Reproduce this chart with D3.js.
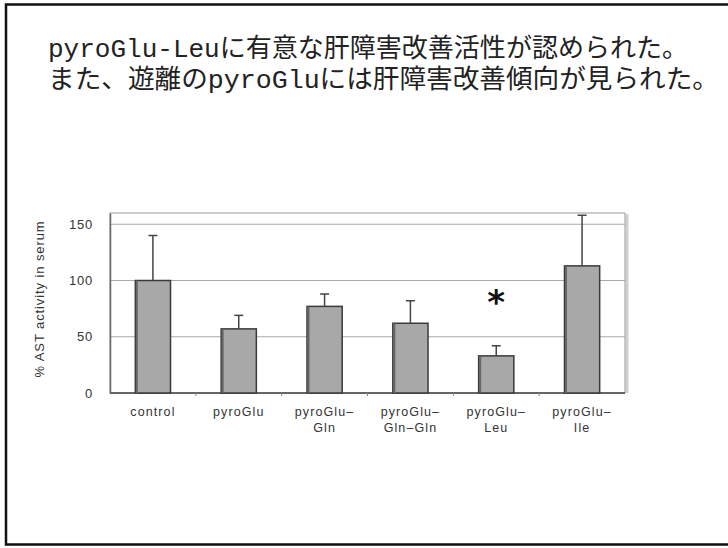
<!DOCTYPE html>
<html>
<head>
<meta charset="utf-8">
<script src="https://cdn.jsdelivr.net/npm/d3@7"></script>
<style>
  body { margin: 0; background: #fff; }
  svg { display: block; }
</style>
</head>
<body>
<script>
// values
var groups = ["control", "pyroGlu", "pyroGlu-Gln", "pyroGlu-Gln-Gln", "pyroGlu-Leu", "pyroGlu-Ile"];
var labelLines = [["control"], ["pyroGlu"], ["pyroGlu\u2013", "Gln"], ["pyroGlu\u2013", "Gln\u2013Gln"], ["pyroGlu\u2013", "Leu"], ["pyroGlu\u2013", "Ile"]];
var means = [100, 57, 77, 62, 33, 113];
var errTops = [140, 69, 88, 82, 42, 158];
var yTicks = [0, 50, 100, 150];
var sigGroups = ["pyroGlu-Leu"];
var titleLines = ["pyroGlu-Leuに有意な肝障害改善活性が認められた。", "また、遊離のpyroGluには肝障害改善傾向が見られた。"];
var yLabel = "% AST activity in serum";

var svgWidth = 728, svgHeight = 548;
var margin = {top: 213, right: 103, bottom: 155, left: 110};
var innerWidth = svgWidth - margin.left - margin.right;
var innerHeight = svgHeight - margin.top - margin.bottom;

var svg = d3.select("body").append("svg")
    .attr("width", svgWidth)
    .attr("height", svgHeight);

// slide frame, open on the right (runs off the page)
svg.append("path")
    .attr("d", "M" + svgWidth + ",4.5H6V544.5H" + svgWidth)
    .attr("fill", "none")
    .attr("stroke", "#111")
    .attr("stroke-width", 2.5);

svg.selectAll(".title")
    .data(titleLines)
    .enter().append("text")
    .attr("class", "title")
    .attr("x", 48)
    .attr("y", function(d, i) { return 57 + i * 31; })
    .attr("textLength", function(d, i) { return i == 0 ? 640 : 671; })
    .attr("lengthAdjust", "spacingAndGlyphs")
    .style("font-family", "'Liberation Mono', 'Noto Sans CJK JP'")
    .style("font-size", "26px")
    .style("fill", "#222")
    .text(function(d) { return d; });

var xScale = d3.scaleBand()
    .domain(groups)
    .range([0, innerWidth]);

var yScale = d3.scaleLinear()
    .domain([0, 160])
    .range([innerHeight, 0]);

var g = svg.append("g")
    .attr("transform", "translate(" + margin.left + "," + margin.top + ")");

// plot box + shadow on the right
g.append("line")
    .attr("x1", innerWidth + 2).attr("x2", innerWidth + 2)
    .attr("y1", 1).attr("y2", innerHeight)
    .attr("stroke", "#d0d0d0").attr("stroke-width", 3);
g.append("rect")
    .attr("x", 0).attr("y", 0)
    .attr("width", innerWidth).attr("height", innerHeight)
    .attr("fill", "none")
    .attr("stroke", "#999")
    .attr("stroke-width", 1);

// gridlines
g.selectAll(".grid")
    .data(yTicks.filter(function(d) { return d > 0; }))
    .enter().append("line")
    .attr("class", "grid")
    .attr("x1", 0).attr("x2", innerWidth)
    .attr("y1", function(d) { return yScale(d); })
    .attr("y2", function(d) { return yScale(d); })
    .attr("stroke", "#aaa")
    .attr("stroke-width", 1);

var yAxis = d3.axisLeft(yScale).tickValues(yTicks).tickSize(0).tickPadding(17);
g.append("g")
    .attr("class", "axis axis--y")
    .call(yAxis)
    .call(function(a) {
        a.select(".domain").attr("stroke", "#666").attr("stroke-width", 1.5);
        a.selectAll("text")
            .style("font-family", "'Liberation Sans', Arial, sans-serif")
            .style("font-size", "13px")
            .style("letter-spacing", "0.8px")
            .style("fill", "#333");
    });

// x axis: small ticks between categories, labels drawn separately
g.append("line")
    .attr("x1", 0).attr("x2", innerWidth)
    .attr("y1", innerHeight).attr("y2", innerHeight)
    .attr("stroke", "#666").attr("stroke-width", 2);

g.selectAll(".xtick")
    .data(groups.slice(1))
    .enter().append("line")
    .attr("class", "xtick")
    .attr("x1", function(d) { return xScale(d); })
    .attr("x2", function(d) { return xScale(d); })
    .attr("y1", innerHeight).attr("y2", innerHeight + 3)
    .attr("stroke", "#888").attr("stroke-width", 1);

var barW = xScale.bandwidth() * 0.41;

var bars = g.selectAll(".bar")
    .data(groups)
    .enter().append("g")
    .attr("class", "bar");

bars.append("rect")
    .attr("x", function(d) { return xScale(d) + xScale.bandwidth() / 2 - barW / 2; })
    .attr("y", function(d, i) { return yScale(means[i]); })
    .attr("width", barW)
    .attr("height", function(d, i) { return innerHeight - yScale(means[i]); })
    .attr("fill", "#a8a8a8")
    .attr("stroke", "#3a3a3a")
    .attr("stroke-width", 1.5);

// darker left edge
bars.append("line")
    .attr("x1", function(d) { return xScale(d) + xScale.bandwidth() / 2 - barW / 2 + 1.5; })
    .attr("x2", function(d) { return xScale(d) + xScale.bandwidth() / 2 - barW / 2 + 1.5; })
    .attr("y1", function(d, i) { return yScale(means[i]); })
    .attr("y2", innerHeight)
    .attr("stroke", "#666")
    .attr("stroke-width", 2);

// error bars
bars.append("line")
    .attr("x1", function(d) { return xScale(d) + xScale.bandwidth() / 2; })
    .attr("x2", function(d) { return xScale(d) + xScale.bandwidth() / 2; })
    .attr("y1", function(d, i) { return yScale(means[i]); })
    .attr("y2", function(d, i) { return yScale(errTops[i]); })
    .attr("stroke", "#444")
    .attr("stroke-width", 1.5);

bars.append("line")
    .attr("x1", function(d) { return xScale(d) + xScale.bandwidth() / 2 - 4.5; })
    .attr("x2", function(d) { return xScale(d) + xScale.bandwidth() / 2 + 4.5; })
    .attr("y1", function(d, i) { return yScale(errTops[i]); })
    .attr("y2", function(d, i) { return yScale(errTops[i]); })
    .attr("stroke", "#444")
    .attr("stroke-width", 1.5);

// category labels
var labels = g.selectAll(".xlabel")
    .data(groups)
    .enter().append("text")
    .attr("class", "xlabel")
    .attr("text-anchor", "middle")
    .attr("transform", function(d) { return "translate(" + (xScale(d) + xScale.bandwidth() / 2) + "," + (innerHeight + 23) + ")"; })
    .style("font-family", "'Liberation Sans', Arial, sans-serif")
    .style("font-size", "12.5px")
    .style("letter-spacing", "1.1px")
    .style("fill", "#333");

labels.selectAll("tspan")
    .data(function(d, i) { return labelLines[i]; })
    .enter().append("tspan")
    .attr("x", 0)
    .attr("dy", function(d, i) { return i == 0 ? 0 : 16; })
    .text(function(d) { return d; });

// significance mark
g.selectAll(".sig")
    .data(sigGroups)
    .enter().append("text")
    .attr("class", "sig")
    .attr("x", function(d) { return xScale(d) + xScale.bandwidth() / 2; })
    .attr("y", yScale(70))
    .attr("text-anchor", "middle")
    .style("font-family", "'DejaVu Sans', sans-serif")
    .style("font-weight", "bold")
    .style("font-size", "34px")
    .style("fill", "#111")
    .text("*");

// y axis title
svg.append("text")
    .attr("transform", "translate(44,299) rotate(-90)")
    .attr("text-anchor", "middle")
    .style("font-family", "'Liberation Sans', Arial, sans-serif")
    .style("font-size", "13px")
    .style("letter-spacing", "0.9px")
    .style("fill", "#333")
    .text(yLabel);
</script>
</body>
</html>
